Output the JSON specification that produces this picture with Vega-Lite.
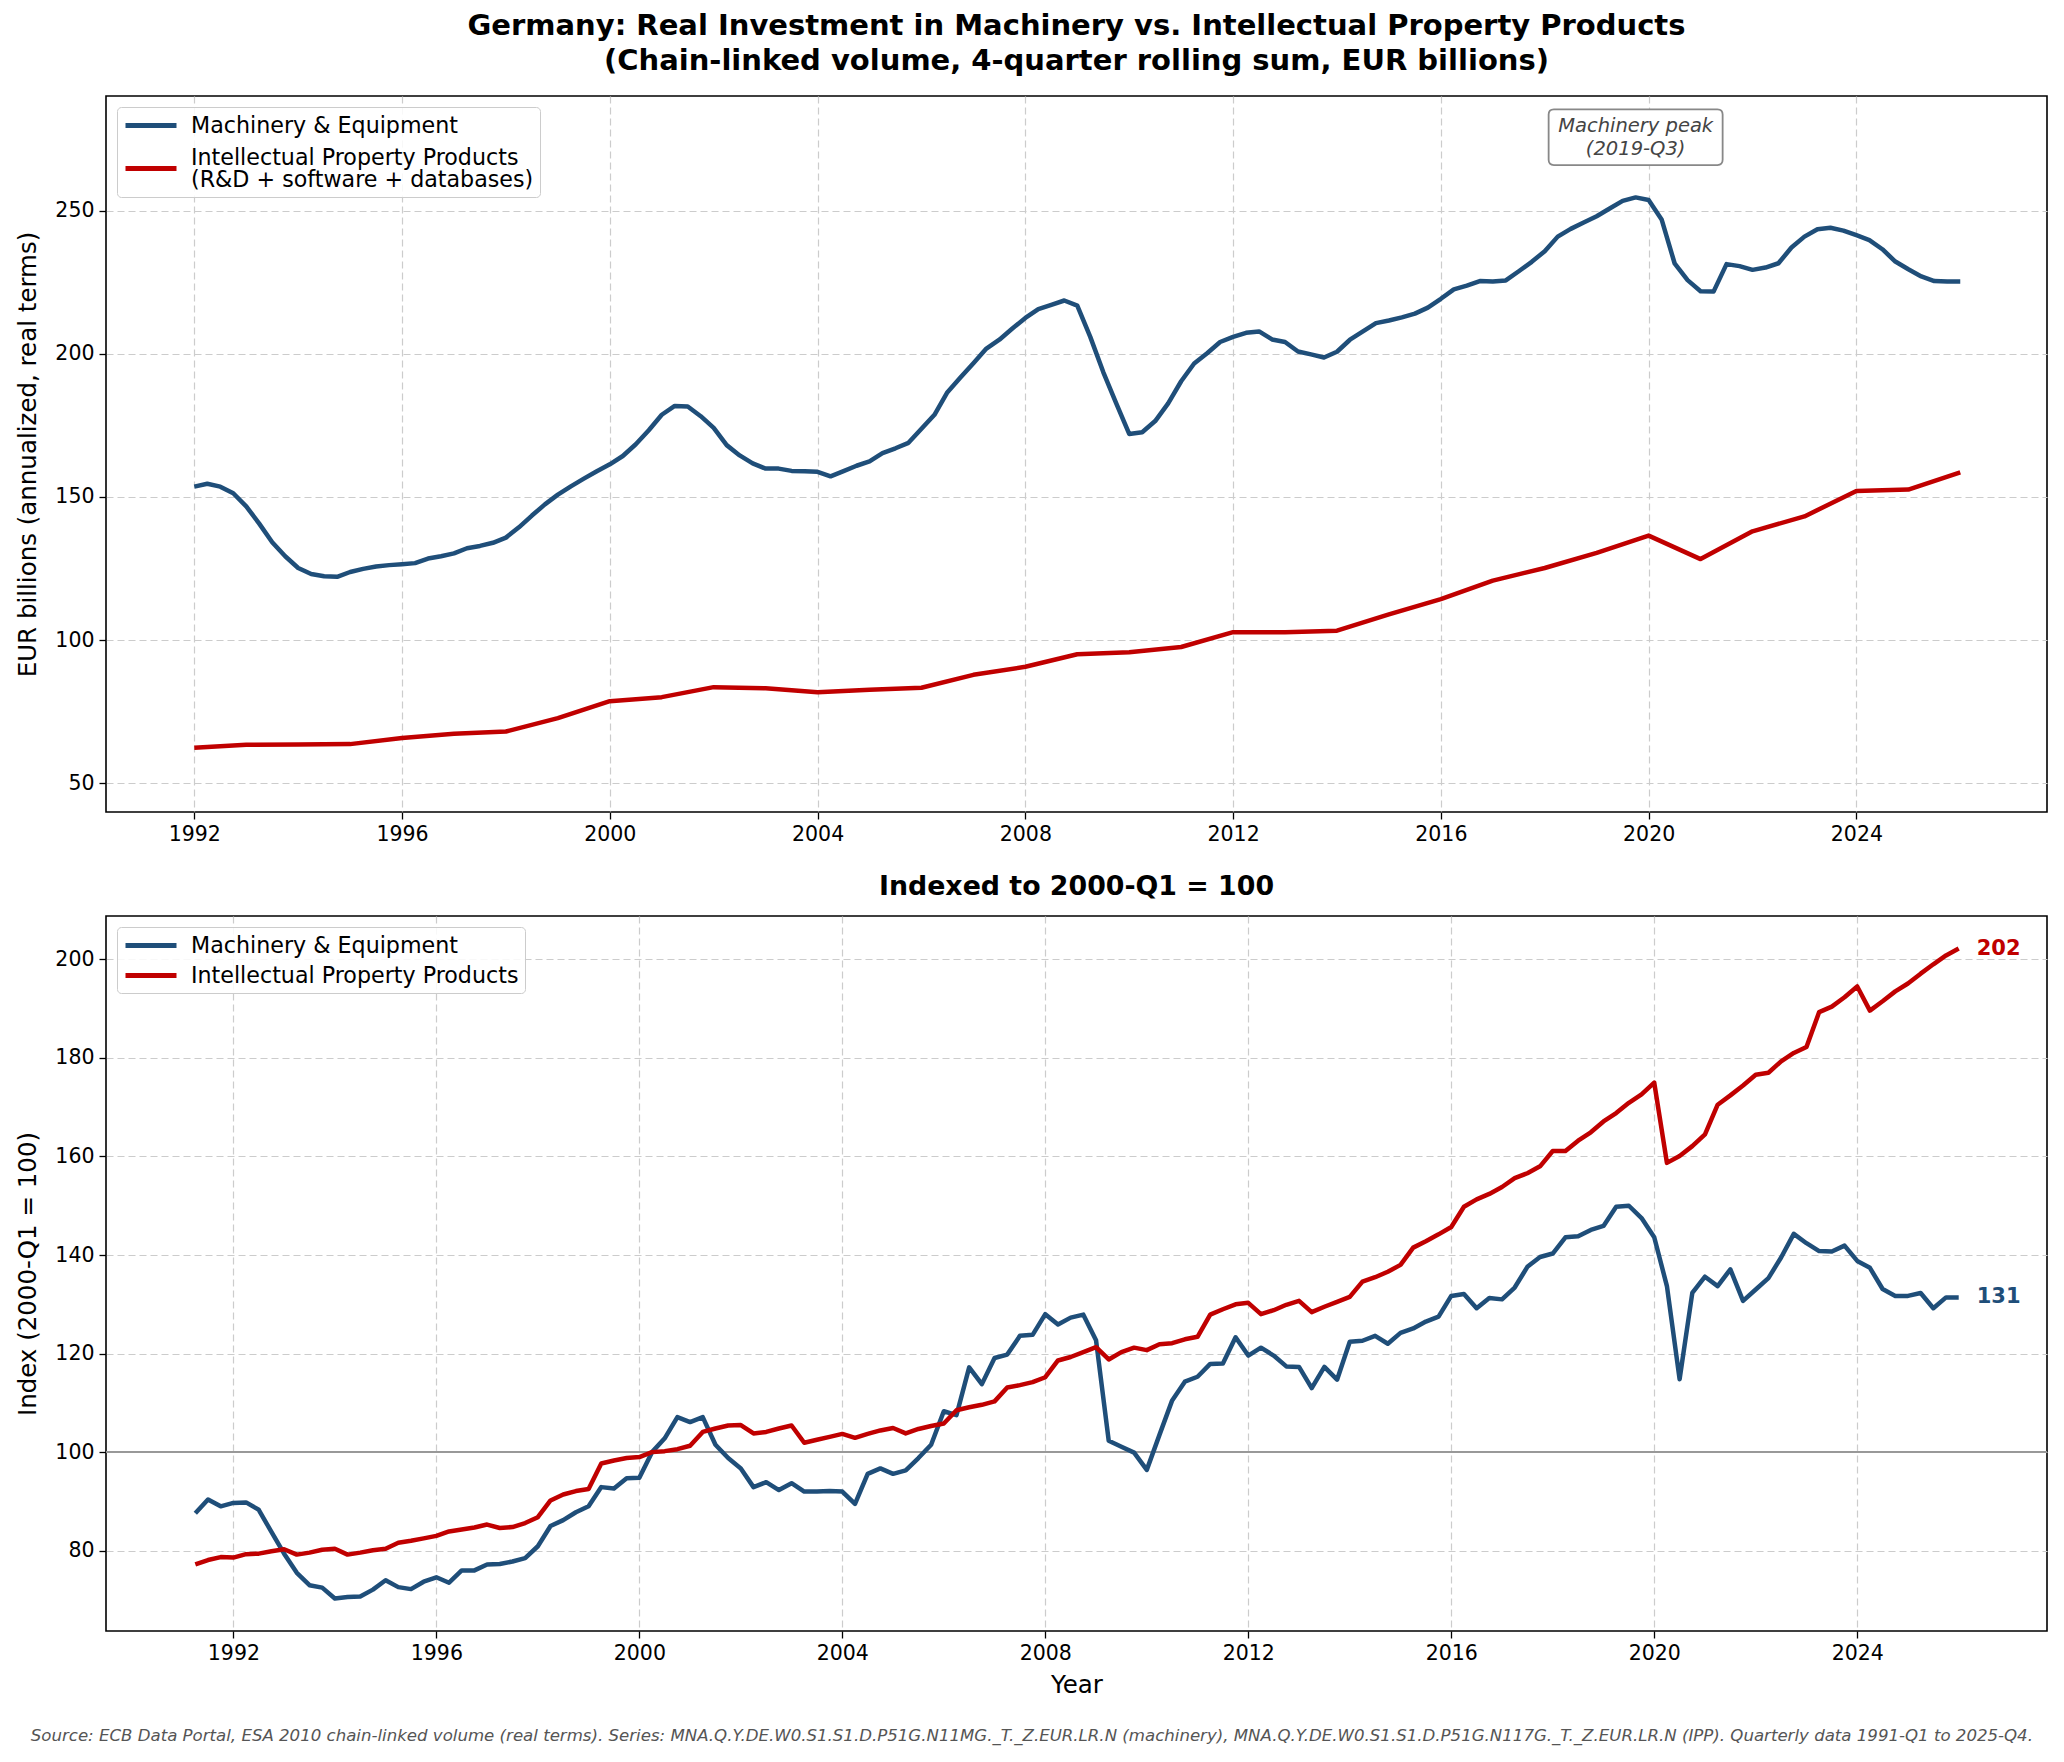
{
  "$schema": "https://vega.github.io/schema/vega-lite/v6.json",
  "background": "white",
  "padding": {"left": 15, "top": 11, "right": 16, "bottom": 14},
  "config": {
    "font": "DejaVu Sans",
    "view": {"stroke": "black", "strokeWidth": 1.6},
    "axis": {
      "domain": false,
      "labelFont": "DejaVu Sans",
      "labelFontSize": 20.5,
      "labelColor": "black",
      "titleFont": "DejaVu Sans",
      "titleFontSize": 24.5,
      "titleFontWeight": "normal",
      "titleColor": "black",
      "tickColor": "black",
      "tickSize": 7,
      "tickWidth": 1.3,
      "labelPadding": 5,
      "grid": true,
      "gridColor": "#cccccc",
      "gridDash": [7, 4],
      "gridWidth": 1.2
    },
    "legend": {
      "orient": "top-left",
      "offset": 11,
      "title": null,
      "symbolType": "M-1,0 L4.1,0",
      "symbolSize": 400,
      "symbolStrokeWidth": 5,
      "labelFont": "DejaVu Sans",
      "labelFontSize": 22.2,
      "labelColor": "black",
      "labelOffset": 43,
      "labelLimit": 800,
      "padding": 6,
      "rowPadding": 6,
      "fillColor": "rgba(255,255,255,0.85)",
      "strokeColor": "#cccccc",
      "cornerRadius": 4
    }
  },
  "title": {
    "text": "Source: ECB Data Portal, ESA 2010 chain-linked volume (real terms). Series: MNA.Q.Y.DE.W0.S1.S1.D.P51G.N11MG._T._Z.EUR.LR.N (machinery), MNA.Q.Y.DE.W0.S1.S1.D.P51G.N117G._T._Z.EUR.LR.N (IPP). Quarterly data 1991-Q1 to 2025-Q4.",
    "orient": "bottom",
    "anchor": "middle",
    "fontSize": 16.6,
    "fontStyle": "italic",
    "fontWeight": "normal",
    "color": "#555555",
    "offset": 30
  },
  "datasets": {
    "top": [
      {"t": 1992.0, "s": "M", "v": 153.6}, {"t": 1992.25, "s": "M", "v": 154.6}, {"t": 1992.5, "s": "M", "v": 153.6}, {"t": 1992.75, "s": "M", "v": 151.3},
      {"t": 1993.0, "s": "M", "v": 146.7}, {"t": 1993.25, "s": "M", "v": 140.7}, {"t": 1993.5, "s": "M", "v": 134.2}, {"t": 1993.75, "s": "M", "v": 129.3},
      {"t": 1994.0, "s": "M", "v": 125.2}, {"t": 1994.25, "s": "M", "v": 123.1}, {"t": 1994.5, "s": "M", "v": 122.3}, {"t": 1994.75, "s": "M", "v": 122.1},
      {"t": 1995.0, "s": "M", "v": 123.8}, {"t": 1995.25, "s": "M", "v": 124.9}, {"t": 1995.5, "s": "M", "v": 125.7}, {"t": 1995.75, "s": "M", "v": 126.2},
      {"t": 1996.0, "s": "M", "v": 126.5}, {"t": 1996.25, "s": "M", "v": 126.9}, {"t": 1996.5, "s": "M", "v": 128.5}, {"t": 1996.75, "s": "M", "v": 129.3},
      {"t": 1997.0, "s": "M", "v": 130.3}, {"t": 1997.25, "s": "M", "v": 132.1}, {"t": 1997.5, "s": "M", "v": 132.9}, {"t": 1997.75, "s": "M", "v": 134.0},
      {"t": 1998.0, "s": "M", "v": 135.8}, {"t": 1998.25, "s": "M", "v": 139.4}, {"t": 1998.5, "s": "M", "v": 143.5}, {"t": 1998.75, "s": "M", "v": 147.4},
      {"t": 1999.0, "s": "M", "v": 150.8}, {"t": 1999.25, "s": "M", "v": 153.7}, {"t": 1999.5, "s": "M", "v": 156.4}, {"t": 1999.75, "s": "M", "v": 159.0},
      {"t": 2000.0, "s": "M", "v": 161.4}, {"t": 2000.25, "s": "M", "v": 164.3}, {"t": 2000.5, "s": "M", "v": 168.4}, {"t": 2000.75, "s": "M", "v": 173.3},
      {"t": 2001.0, "s": "M", "v": 178.7}, {"t": 2001.25, "s": "M", "v": 181.8}, {"t": 2001.5, "s": "M", "v": 181.6}, {"t": 2001.75, "s": "M", "v": 178.2},
      {"t": 2002.0, "s": "M", "v": 174.1}, {"t": 2002.25, "s": "M", "v": 168.1}, {"t": 2002.5, "s": "M", "v": 164.5}, {"t": 2002.75, "s": "M", "v": 161.7},
      {"t": 2003.0, "s": "M", "v": 159.9}, {"t": 2003.25, "s": "M", "v": 159.9}, {"t": 2003.5, "s": "M", "v": 159.1}, {"t": 2003.75, "s": "M", "v": 159.0},
      {"t": 2004.0, "s": "M", "v": 158.8}, {"t": 2004.25, "s": "M", "v": 157.2}, {"t": 2004.5, "s": "M", "v": 159.0}, {"t": 2004.75, "s": "M", "v": 160.9},
      {"t": 2005.0, "s": "M", "v": 162.4}, {"t": 2005.25, "s": "M", "v": 165.3}, {"t": 2005.5, "s": "M", "v": 167.0}, {"t": 2005.75, "s": "M", "v": 168.9},
      {"t": 2006.0, "s": "M", "v": 173.8}, {"t": 2006.25, "s": "M", "v": 178.7}, {"t": 2006.5, "s": "M", "v": 186.6}, {"t": 2006.75, "s": "M", "v": 191.7},
      {"t": 2007.0, "s": "M", "v": 196.7}, {"t": 2007.25, "s": "M", "v": 201.8}, {"t": 2007.5, "s": "M", "v": 204.9}, {"t": 2007.75, "s": "M", "v": 208.8},
      {"t": 2008.0, "s": "M", "v": 212.5}, {"t": 2008.25, "s": "M", "v": 215.6}, {"t": 2008.5, "s": "M", "v": 217.1}, {"t": 2008.75, "s": "M", "v": 218.6},
      {"t": 2009.0, "s": "M", "v": 216.8}, {"t": 2009.25, "s": "M", "v": 205.9}, {"t": 2009.5, "s": "M", "v": 193.6}, {"t": 2009.75, "s": "M", "v": 182.7},
      {"t": 2010.0, "s": "M", "v": 172.0}, {"t": 2010.25, "s": "M", "v": 172.6}, {"t": 2010.5, "s": "M", "v": 176.5}, {"t": 2010.75, "s": "M", "v": 182.7},
      {"t": 2011.0, "s": "M", "v": 190.4}, {"t": 2011.25, "s": "M", "v": 196.6}, {"t": 2011.5, "s": "M", "v": 200.2}, {"t": 2011.75, "s": "M", "v": 204.1},
      {"t": 2012.0, "s": "M", "v": 205.9}, {"t": 2012.25, "s": "M", "v": 207.3}, {"t": 2012.5, "s": "M", "v": 207.8}, {"t": 2012.75, "s": "M", "v": 205.0},
      {"t": 2013.0, "s": "M", "v": 204.1}, {"t": 2013.25, "s": "M", "v": 200.8}, {"t": 2013.5, "s": "M", "v": 199.8}, {"t": 2013.75, "s": "M", "v": 198.7},
      {"t": 2014.0, "s": "M", "v": 200.7}, {"t": 2014.25, "s": "M", "v": 204.9}, {"t": 2014.5, "s": "M", "v": 207.8}, {"t": 2014.75, "s": "M", "v": 210.7},
      {"t": 2015.0, "s": "M", "v": 211.6}, {"t": 2015.25, "s": "M", "v": 212.7}, {"t": 2015.5, "s": "M", "v": 214.0}, {"t": 2015.75, "s": "M", "v": 216.1},
      {"t": 2016.0, "s": "M", "v": 219.2}, {"t": 2016.25, "s": "M", "v": 222.5}, {"t": 2016.5, "s": "M", "v": 223.8}, {"t": 2016.75, "s": "M", "v": 225.4},
      {"t": 2017.0, "s": "M", "v": 225.2}, {"t": 2017.25, "s": "M", "v": 225.6}, {"t": 2017.5, "s": "M", "v": 228.8}, {"t": 2017.75, "s": "M", "v": 232.1},
      {"t": 2018.0, "s": "M", "v": 235.8}, {"t": 2018.25, "s": "M", "v": 240.9}, {"t": 2018.5, "s": "M", "v": 243.6}, {"t": 2018.75, "s": "M", "v": 245.8},
      {"t": 2019.0, "s": "M", "v": 248.0}, {"t": 2019.25, "s": "M", "v": 250.7}, {"t": 2019.5, "s": "M", "v": 253.4}, {"t": 2019.75, "s": "M", "v": 254.6},
      {"t": 2020.0, "s": "M", "v": 253.7}, {"t": 2020.25, "s": "M", "v": 246.9}, {"t": 2020.5, "s": "M", "v": 231.6}, {"t": 2020.75, "s": "M", "v": 225.7},
      {"t": 2021.0, "s": "M", "v": 221.8}, {"t": 2021.25, "s": "M", "v": 221.7}, {"t": 2021.5, "s": "M", "v": 231.3}, {"t": 2021.75, "s": "M", "v": 230.6},
      {"t": 2022.0, "s": "M", "v": 229.3}, {"t": 2022.25, "s": "M", "v": 230.1}, {"t": 2022.5, "s": "M", "v": 231.6}, {"t": 2022.75, "s": "M", "v": 237.1},
      {"t": 2023.0, "s": "M", "v": 240.9}, {"t": 2023.25, "s": "M", "v": 243.5}, {"t": 2023.5, "s": "M", "v": 244.0}, {"t": 2023.75, "s": "M", "v": 243.0},
      {"t": 2024.0, "s": "M", "v": 241.4}, {"t": 2024.25, "s": "M", "v": 239.7}, {"t": 2024.5, "s": "M", "v": 236.5}, {"t": 2024.75, "s": "M", "v": 232.2},
      {"t": 2025.0, "s": "M", "v": 229.5}, {"t": 2025.25, "s": "M", "v": 227.0}, {"t": 2025.5, "s": "M", "v": 225.4}, {"t": 2025.75, "s": "M", "v": 225.2},
      {"t": 2026.0, "s": "M", "v": 225.2},
      {"t": 1992, "s": "I", "v": 62.4}, {"t": 1993, "s": "I", "v": 63.5}, {"t": 1994, "s": "I", "v": 63.6}, {"t": 1995, "s": "I", "v": 63.7},
      {"t": 1996, "s": "I", "v": 65.8}, {"t": 1997, "s": "I", "v": 67.3}, {"t": 1998, "s": "I", "v": 68.1}, {"t": 1999, "s": "I", "v": 72.8},
      {"t": 2000, "s": "I", "v": 78.7}, {"t": 2001, "s": "I", "v": 80.1}, {"t": 2002, "s": "I", "v": 83.6}, {"t": 2003, "s": "I", "v": 83.2},
      {"t": 2004, "s": "I", "v": 81.8}, {"t": 2005, "s": "I", "v": 82.7}, {"t": 2006, "s": "I", "v": 83.4}, {"t": 2007, "s": "I", "v": 87.9},
      {"t": 2008, "s": "I", "v": 90.7}, {"t": 2009, "s": "I", "v": 95.1}, {"t": 2010, "s": "I", "v": 95.8}, {"t": 2011, "s": "I", "v": 97.6},
      {"t": 2012, "s": "I", "v": 102.8}, {"t": 2013, "s": "I", "v": 102.8}, {"t": 2014, "s": "I", "v": 103.3}, {"t": 2015, "s": "I", "v": 109.0},
      {"t": 2016, "s": "I", "v": 114.3}, {"t": 2017, "s": "I", "v": 120.8}, {"t": 2018, "s": "I", "v": 125.2}, {"t": 2019, "s": "I", "v": 130.5},
      {"t": 2020, "s": "I", "v": 136.5}, {"t": 2021, "s": "I", "v": 128.3}, {"t": 2022, "s": "I", "v": 138.0}, {"t": 2023, "s": "I", "v": 143.2},
      {"t": 2024, "s": "I", "v": 152.1}, {"t": 2025, "s": "I", "v": 152.6}, {"t": 2026, "s": "I", "v": 158.6}
    ],
    "idx": [
      {"t": 1991.25, "s": "M", "v": 87.6}, {"t": 1991.5, "s": "M", "v": 90.4}, {"t": 1991.75, "s": "M", "v": 89.0},
      {"t": 1992.0, "s": "M", "v": 89.7}, {"t": 1992.25, "s": "M", "v": 89.8}, {"t": 1992.5, "s": "M", "v": 88.3}, {"t": 1992.75, "s": "M", "v": 83.8},
      {"t": 1993.0, "s": "M", "v": 79.4}, {"t": 1993.25, "s": "M", "v": 75.5}, {"t": 1993.5, "s": "M", "v": 73.0}, {"t": 1993.75, "s": "M", "v": 72.5},
      {"t": 1994.0, "s": "M", "v": 70.3}, {"t": 1994.25, "s": "M", "v": 70.6}, {"t": 1994.5, "s": "M", "v": 70.7}, {"t": 1994.75, "s": "M", "v": 72.1},
      {"t": 1995.0, "s": "M", "v": 74.0}, {"t": 1995.25, "s": "M", "v": 72.6}, {"t": 1995.5, "s": "M", "v": 72.2}, {"t": 1995.75, "s": "M", "v": 73.7},
      {"t": 1996.0, "s": "M", "v": 74.6}, {"t": 1996.25, "s": "M", "v": 73.5}, {"t": 1996.5, "s": "M", "v": 76.0}, {"t": 1996.75, "s": "M", "v": 76.0},
      {"t": 1997.0, "s": "M", "v": 77.2}, {"t": 1997.25, "s": "M", "v": 77.3}, {"t": 1997.5, "s": "M", "v": 77.8}, {"t": 1997.75, "s": "M", "v": 78.5},
      {"t": 1998.0, "s": "M", "v": 80.9}, {"t": 1998.25, "s": "M", "v": 85.0}, {"t": 1998.5, "s": "M", "v": 86.2}, {"t": 1998.75, "s": "M", "v": 87.8},
      {"t": 1999.0, "s": "M", "v": 89.0}, {"t": 1999.25, "s": "M", "v": 92.9}, {"t": 1999.5, "s": "M", "v": 92.6}, {"t": 1999.75, "s": "M", "v": 94.7},
      {"t": 2000.0, "s": "M", "v": 94.8}, {"t": 2000.25, "s": "M", "v": 100.0}, {"t": 2000.5, "s": "M", "v": 102.8}, {"t": 2000.75, "s": "M", "v": 107.1},
      {"t": 2001.0, "s": "M", "v": 106.1}, {"t": 2001.25, "s": "M", "v": 107.1}, {"t": 2001.5, "s": "M", "v": 101.5}, {"t": 2001.75, "s": "M", "v": 98.8},
      {"t": 2002.0, "s": "M", "v": 96.7}, {"t": 2002.25, "s": "M", "v": 92.9}, {"t": 2002.5, "s": "M", "v": 93.9}, {"t": 2002.75, "s": "M", "v": 92.3},
      {"t": 2003.0, "s": "M", "v": 93.7}, {"t": 2003.25, "s": "M", "v": 92.0}, {"t": 2003.5, "s": "M", "v": 92.0}, {"t": 2003.75, "s": "M", "v": 92.1},
      {"t": 2004.0, "s": "M", "v": 92.0}, {"t": 2004.25, "s": "M", "v": 89.5}, {"t": 2004.5, "s": "M", "v": 95.6}, {"t": 2004.75, "s": "M", "v": 96.7},
      {"t": 2005.0, "s": "M", "v": 95.6}, {"t": 2005.25, "s": "M", "v": 96.3}, {"t": 2005.5, "s": "M", "v": 98.8}, {"t": 2005.75, "s": "M", "v": 101.5},
      {"t": 2006.0, "s": "M", "v": 108.3}, {"t": 2006.25, "s": "M", "v": 107.5}, {"t": 2006.5, "s": "M", "v": 117.2}, {"t": 2006.75, "s": "M", "v": 113.8},
      {"t": 2007.0, "s": "M", "v": 119.1}, {"t": 2007.25, "s": "M", "v": 119.8}, {"t": 2007.5, "s": "M", "v": 123.6}, {"t": 2007.75, "s": "M", "v": 123.8},
      {"t": 2008.0, "s": "M", "v": 128.0}, {"t": 2008.25, "s": "M", "v": 125.9}, {"t": 2008.5, "s": "M", "v": 127.3}, {"t": 2008.75, "s": "M", "v": 127.9},
      {"t": 2009.0, "s": "M", "v": 122.7}, {"t": 2009.25, "s": "M", "v": 102.3}, {"t": 2009.5, "s": "M", "v": 101.1}, {"t": 2009.75, "s": "M", "v": 99.9},
      {"t": 2010.0, "s": "M", "v": 96.4}, {"t": 2010.25, "s": "M", "v": 103.5}, {"t": 2010.5, "s": "M", "v": 110.5}, {"t": 2010.75, "s": "M", "v": 114.3},
      {"t": 2011.0, "s": "M", "v": 115.3}, {"t": 2011.25, "s": "M", "v": 117.9}, {"t": 2011.5, "s": "M", "v": 118.0}, {"t": 2011.75, "s": "M", "v": 123.3},
      {"t": 2012.0, "s": "M", "v": 119.6}, {"t": 2012.25, "s": "M", "v": 121.2}, {"t": 2012.5, "s": "M", "v": 119.6}, {"t": 2012.75, "s": "M", "v": 117.4},
      {"t": 2013.0, "s": "M", "v": 117.3}, {"t": 2013.25, "s": "M", "v": 113.0}, {"t": 2013.5, "s": "M", "v": 117.3}, {"t": 2013.75, "s": "M", "v": 114.7},
      {"t": 2014.0, "s": "M", "v": 122.4}, {"t": 2014.25, "s": "M", "v": 122.6}, {"t": 2014.5, "s": "M", "v": 123.6}, {"t": 2014.75, "s": "M", "v": 122.0},
      {"t": 2015.0, "s": "M", "v": 124.2}, {"t": 2015.25, "s": "M", "v": 125.1}, {"t": 2015.5, "s": "M", "v": 126.5}, {"t": 2015.75, "s": "M", "v": 127.5},
      {"t": 2016.0, "s": "M", "v": 131.7}, {"t": 2016.25, "s": "M", "v": 132.1}, {"t": 2016.5, "s": "M", "v": 129.2}, {"t": 2016.75, "s": "M", "v": 131.3},
      {"t": 2017.0, "s": "M", "v": 131.0}, {"t": 2017.25, "s": "M", "v": 133.4}, {"t": 2017.5, "s": "M", "v": 137.6}, {"t": 2017.75, "s": "M", "v": 139.6},
      {"t": 2018.0, "s": "M", "v": 140.3}, {"t": 2018.25, "s": "M", "v": 143.6}, {"t": 2018.5, "s": "M", "v": 143.8}, {"t": 2018.75, "s": "M", "v": 145.1},
      {"t": 2019.0, "s": "M", "v": 145.9}, {"t": 2019.25, "s": "M", "v": 149.8}, {"t": 2019.5, "s": "M", "v": 150.0}, {"t": 2019.75, "s": "M", "v": 147.5},
      {"t": 2020.0, "s": "M", "v": 143.6}, {"t": 2020.25, "s": "M", "v": 133.7}, {"t": 2020.5, "s": "M", "v": 114.8}, {"t": 2020.75, "s": "M", "v": 132.3},
      {"t": 2021.0, "s": "M", "v": 135.6}, {"t": 2021.25, "s": "M", "v": 133.7}, {"t": 2021.5, "s": "M", "v": 137.1}, {"t": 2021.75, "s": "M", "v": 130.7},
      {"t": 2022.0, "s": "M", "v": 133.0}, {"t": 2022.25, "s": "M", "v": 135.3}, {"t": 2022.5, "s": "M", "v": 139.5}, {"t": 2022.75, "s": "M", "v": 144.3},
      {"t": 2023.0, "s": "M", "v": 142.4}, {"t": 2023.25, "s": "M", "v": 140.8}, {"t": 2023.5, "s": "M", "v": 140.7}, {"t": 2023.75, "s": "M", "v": 141.9},
      {"t": 2024.0, "s": "M", "v": 138.8}, {"t": 2024.25, "s": "M", "v": 137.4}, {"t": 2024.5, "s": "M", "v": 133.1}, {"t": 2024.75, "s": "M", "v": 131.7},
      {"t": 2025.0, "s": "M", "v": 131.7}, {"t": 2025.25, "s": "M", "v": 132.3}, {"t": 2025.5, "s": "M", "v": 129.2}, {"t": 2025.75, "s": "M", "v": 131.4},
      {"t": 2026.0, "s": "M", "v": 131.4},
      {"t": 1991.25, "s": "I", "v": 77.2}, {"t": 1991.5, "s": "I", "v": 78.1}, {"t": 1991.75, "s": "I", "v": 78.7},
      {"t": 1992.0, "s": "I", "v": 78.6}, {"t": 1992.25, "s": "I", "v": 79.3}, {"t": 1992.5, "s": "I", "v": 79.4}, {"t": 1992.75, "s": "I", "v": 79.9},
      {"t": 1993.0, "s": "I", "v": 80.3}, {"t": 1993.25, "s": "I", "v": 79.2}, {"t": 1993.5, "s": "I", "v": 79.6}, {"t": 1993.75, "s": "I", "v": 80.2},
      {"t": 1994.0, "s": "I", "v": 80.4}, {"t": 1994.25, "s": "I", "v": 79.2}, {"t": 1994.5, "s": "I", "v": 79.6}, {"t": 1994.75, "s": "I", "v": 80.1},
      {"t": 1995.0, "s": "I", "v": 80.4}, {"t": 1995.25, "s": "I", "v": 81.6}, {"t": 1995.5, "s": "I", "v": 82.0}, {"t": 1995.75, "s": "I", "v": 82.5},
      {"t": 1996.0, "s": "I", "v": 83.0}, {"t": 1996.25, "s": "I", "v": 83.9}, {"t": 1996.5, "s": "I", "v": 84.3}, {"t": 1996.75, "s": "I", "v": 84.7},
      {"t": 1997.0, "s": "I", "v": 85.3}, {"t": 1997.25, "s": "I", "v": 84.6}, {"t": 1997.5, "s": "I", "v": 84.8}, {"t": 1997.75, "s": "I", "v": 85.6},
      {"t": 1998.0, "s": "I", "v": 86.8}, {"t": 1998.25, "s": "I", "v": 90.2}, {"t": 1998.5, "s": "I", "v": 91.4}, {"t": 1998.75, "s": "I", "v": 92.1},
      {"t": 1999.0, "s": "I", "v": 92.5}, {"t": 1999.25, "s": "I", "v": 97.7}, {"t": 1999.5, "s": "I", "v": 98.3}, {"t": 1999.75, "s": "I", "v": 98.8},
      {"t": 2000.0, "s": "I", "v": 99.0}, {"t": 2000.25, "s": "I", "v": 100.0}, {"t": 2000.5, "s": "I", "v": 100.2}, {"t": 2000.75, "s": "I", "v": 100.6},
      {"t": 2001.0, "s": "I", "v": 101.3}, {"t": 2001.25, "s": "I", "v": 104.1}, {"t": 2001.5, "s": "I", "v": 104.8}, {"t": 2001.75, "s": "I", "v": 105.4},
      {"t": 2002.0, "s": "I", "v": 105.5}, {"t": 2002.25, "s": "I", "v": 103.8}, {"t": 2002.5, "s": "I", "v": 104.1}, {"t": 2002.75, "s": "I", "v": 104.8},
      {"t": 2003.0, "s": "I", "v": 105.4}, {"t": 2003.25, "s": "I", "v": 101.9}, {"t": 2003.5, "s": "I", "v": 102.5}, {"t": 2003.75, "s": "I", "v": 103.1},
      {"t": 2004.0, "s": "I", "v": 103.7}, {"t": 2004.25, "s": "I", "v": 102.9}, {"t": 2004.5, "s": "I", "v": 103.7}, {"t": 2004.75, "s": "I", "v": 104.4},
      {"t": 2005.0, "s": "I", "v": 104.9}, {"t": 2005.25, "s": "I", "v": 103.8}, {"t": 2005.5, "s": "I", "v": 104.7}, {"t": 2005.75, "s": "I", "v": 105.3},
      {"t": 2006.0, "s": "I", "v": 105.8}, {"t": 2006.25, "s": "I", "v": 108.5}, {"t": 2006.5, "s": "I", "v": 109.1}, {"t": 2006.75, "s": "I", "v": 109.6},
      {"t": 2007.0, "s": "I", "v": 110.3}, {"t": 2007.25, "s": "I", "v": 113.1}, {"t": 2007.5, "s": "I", "v": 113.6}, {"t": 2007.75, "s": "I", "v": 114.2},
      {"t": 2008.0, "s": "I", "v": 115.2}, {"t": 2008.25, "s": "I", "v": 118.6}, {"t": 2008.5, "s": "I", "v": 119.3}, {"t": 2008.75, "s": "I", "v": 120.3},
      {"t": 2009.0, "s": "I", "v": 121.3}, {"t": 2009.25, "s": "I", "v": 118.8}, {"t": 2009.5, "s": "I", "v": 120.3}, {"t": 2009.75, "s": "I", "v": 121.2},
      {"t": 2010.0, "s": "I", "v": 120.7}, {"t": 2010.25, "s": "I", "v": 121.9}, {"t": 2010.5, "s": "I", "v": 122.1}, {"t": 2010.75, "s": "I", "v": 122.9},
      {"t": 2011.0, "s": "I", "v": 123.4}, {"t": 2011.25, "s": "I", "v": 127.9}, {"t": 2011.5, "s": "I", "v": 129.0}, {"t": 2011.75, "s": "I", "v": 130.0},
      {"t": 2012.0, "s": "I", "v": 130.3}, {"t": 2012.25, "s": "I", "v": 128.0}, {"t": 2012.5, "s": "I", "v": 128.8}, {"t": 2012.75, "s": "I", "v": 129.9},
      {"t": 2013.0, "s": "I", "v": 130.7}, {"t": 2013.25, "s": "I", "v": 128.4}, {"t": 2013.5, "s": "I", "v": 129.5}, {"t": 2013.75, "s": "I", "v": 130.5},
      {"t": 2014.0, "s": "I", "v": 131.5}, {"t": 2014.25, "s": "I", "v": 134.6}, {"t": 2014.5, "s": "I", "v": 135.5}, {"t": 2014.75, "s": "I", "v": 136.6},
      {"t": 2015.0, "s": "I", "v": 138.0}, {"t": 2015.25, "s": "I", "v": 141.5}, {"t": 2015.5, "s": "I", "v": 142.8}, {"t": 2015.75, "s": "I", "v": 144.2},
      {"t": 2016.0, "s": "I", "v": 145.7}, {"t": 2016.25, "s": "I", "v": 149.8}, {"t": 2016.5, "s": "I", "v": 151.3}, {"t": 2016.75, "s": "I", "v": 152.4},
      {"t": 2017.0, "s": "I", "v": 153.8}, {"t": 2017.25, "s": "I", "v": 155.6}, {"t": 2017.5, "s": "I", "v": 156.6}, {"t": 2017.75, "s": "I", "v": 158.0},
      {"t": 2018.0, "s": "I", "v": 161.1}, {"t": 2018.25, "s": "I", "v": 161.1}, {"t": 2018.5, "s": "I", "v": 163.2}, {"t": 2018.75, "s": "I", "v": 164.9},
      {"t": 2019.0, "s": "I", "v": 167.1}, {"t": 2019.25, "s": "I", "v": 168.8}, {"t": 2019.5, "s": "I", "v": 170.9}, {"t": 2019.75, "s": "I", "v": 172.6},
      {"t": 2020.0, "s": "I", "v": 175.0}, {"t": 2020.25, "s": "I", "v": 158.7}, {"t": 2020.5, "s": "I", "v": 160.1}, {"t": 2020.75, "s": "I", "v": 162.1},
      {"t": 2021.0, "s": "I", "v": 164.5}, {"t": 2021.25, "s": "I", "v": 170.5}, {"t": 2021.5, "s": "I", "v": 172.4}, {"t": 2021.75, "s": "I", "v": 174.4},
      {"t": 2022.0, "s": "I", "v": 176.6}, {"t": 2022.25, "s": "I", "v": 177.0}, {"t": 2022.5, "s": "I", "v": 179.3}, {"t": 2022.75, "s": "I", "v": 181.0},
      {"t": 2023.0, "s": "I", "v": 182.2}, {"t": 2023.25, "s": "I", "v": 189.3}, {"t": 2023.5, "s": "I", "v": 190.4}, {"t": 2023.75, "s": "I", "v": 192.3},
      {"t": 2024.0, "s": "I", "v": 194.5}, {"t": 2024.25, "s": "I", "v": 189.6}, {"t": 2024.5, "s": "I", "v": 191.5}, {"t": 2024.75, "s": "I", "v": 193.5},
      {"t": 2025.0, "s": "I", "v": 195.1}, {"t": 2025.25, "s": "I", "v": 197.1}, {"t": 2025.5, "s": "I", "v": 199.0}, {"t": 2025.75, "s": "I", "v": 200.8},
      {"t": 2026.0, "s": "I", "v": 202.2}
    ],
    "peak": [{"t": 2019.75, "v": 275.6}]
  },
  "spacing": 27,
  "resolve": {
    "scale": {"x": "independent", "y": "independent", "color": "independent"},
    "legend": {"color": "independent"}
  },
  "vconcat": [
    {
      "width": 1941,
      "height": 716,
      "title": {
        "text": ["Germany: Real Investment in Machinery vs. Intellectual Property Products", "(Chain-linked volume, 4-quarter rolling sum, EUR billions)"],
        "anchor": "middle",
        "frame": "group",
        "fontSize": 29,
        "fontWeight": "bold",
        "color": "black",
        "lineHeight": 35,
        "offset": 20
      },
      "layer": [
        {
          "mark": {"type": "rule", "color": "#999999", "strokeWidth": 2.5, "strokeDash": [2, 4]},
          "encoding": {"x": {"datum": 2019.75, "type": "quantitative"}}
        },
        {
          "data": {"name": "top"},
          "mark": {"type": "line", "strokeWidth": 4.5, "strokeJoin": "round"},
          "encoding": {
            "x": {
              "field": "t", "type": "quantitative",
              "scale": {"domain": [1990.3, 2027.67], "nice": false, "zero": false},
              "axis": {"title": null, "values": [1992, 1996, 2000, 2004, 2008, 2012, 2016, 2020, 2024], "format": "d"}
            },
            "y": {
              "field": "v", "type": "quantitative",
              "scale": {"domain": [40, 290], "nice": false, "zero": false},
              "axis": {"title": "EUR billions (annualized, real terms)", "values": [50, 100, 150, 200, 250], "format": "d", "titlePadding": 14}
            },
            "color": {
              "field": "s", "type": "nominal",
              "scale": {"domain": ["M", "I"], "range": ["#1f4e79", "#c00000"]},
              "legend": {
                "rowPadding": 9,
                "labelExpr": "datum.value == 'M' ? 'Machinery & Equipment' : ['Intellectual Property Products', '(R&D + software + databases)']",
                "encode": {"labels": {"update": {"dy": {"signal": "datum.value == 'I' ? -11 : 0"}, "lineHeight": {"value": 22}}}}
              }
            },
            "order": {"field": "t", "type": "quantitative"}
          }
        },
        {
          "data": {"name": "peak"},
          "mark": {
            "type": "point",
            "shape": "M-0.94,-0.32 L0.94,-0.32 Q1,-0.32 1,-0.26 L1,0.26 Q1,0.32 0.94,0.32 L-0.94,0.32 Q-1,0.32 -1,0.26 L-1,-0.26 Q-1,-0.32 -0.94,-0.32 Z",
            "size": 30276,
            "filled": true,
            "fill": "white",
            "stroke": "#888888",
            "strokeWidth": 1.8,
            "opacity": 1
          },
          "encoding": {
            "x": {"field": "t", "type": "quantitative"},
            "y": {"field": "v", "type": "quantitative"}
          }
        },
        {
          "data": {"name": "peak"},
          "mark": {
            "type": "text",
            "text": ["Machinery peak", "(2019-Q3)"],
            "fontSize": 19.5,
            "fontStyle": "italic",
            "color": "#444444",
            "lineHeight": 23,
            "align": "center",
            "baseline": "middle",
            "dy": -11.5
          },
          "encoding": {
            "x": {"field": "t", "type": "quantitative"},
            "y": {"field": "v", "type": "quantitative"}
          }
        }
      ]
    },
    {
      "width": 1941,
      "height": 715,
      "title": {
        "text": "Indexed to 2000-Q1 = 100",
        "anchor": "middle",
        "frame": "group",
        "fontSize": 26.8,
        "fontWeight": "bold",
        "color": "black",
        "offset": 15
      },
      "data": {"name": "idx"},
      "layer": [
        {
          "mark": {"type": "rule", "color": "#999999", "strokeWidth": 1.6, "opacity": 0.8},
          "encoding": {"y": {"datum": 100, "type": "quantitative"}}
        },
        {
          "mark": {"type": "line", "strokeWidth": 4.5, "strokeJoin": "round"},
          "encoding": {
            "x": {
              "field": "t", "type": "quantitative",
              "scale": {"domain": [1989.49, 2027.74], "nice": false, "zero": false},
              "axis": {"title": "Year", "titlePadding": 10, "values": [1992, 1996, 2000, 2004, 2008, 2012, 2016, 2020, 2024], "format": "d"}
            },
            "y": {
              "field": "v", "type": "quantitative",
              "scale": {"domain": [63.7, 208.8], "nice": false, "zero": false},
              "axis": {"title": "Index (2000-Q1 = 100)", "values": [80, 100, 120, 140, 160, 180, 200], "format": "d", "titlePadding": 14}
            },
            "color": {
              "field": "s", "type": "nominal",
              "scale": {"domain": ["M", "I"], "range": ["#1f4e79", "#c00000"]},
              "legend": {"labelExpr": "datum.value == 'M' ? 'Machinery & Equipment' : 'Intellectual Property Products'"}
            },
            "order": {"field": "t", "type": "quantitative"}
          }
        },
        {
          "transform": [{"filter": "datum.t == 2026"}],
          "mark": {"type": "text", "align": "left", "baseline": "middle", "dx": 18, "fontSize": 21, "fontWeight": "bold"},
          "encoding": {
            "x": {"field": "t", "type": "quantitative"},
            "y": {"field": "v", "type": "quantitative"},
            "text": {"field": "v", "type": "quantitative", "format": ".0f"},
            "color": {"condition": {"test": "datum.s == 'I'", "value": "#c00000"}, "value": "#1f4e79"}
          }
        }
      ]
    }
  ]
}
